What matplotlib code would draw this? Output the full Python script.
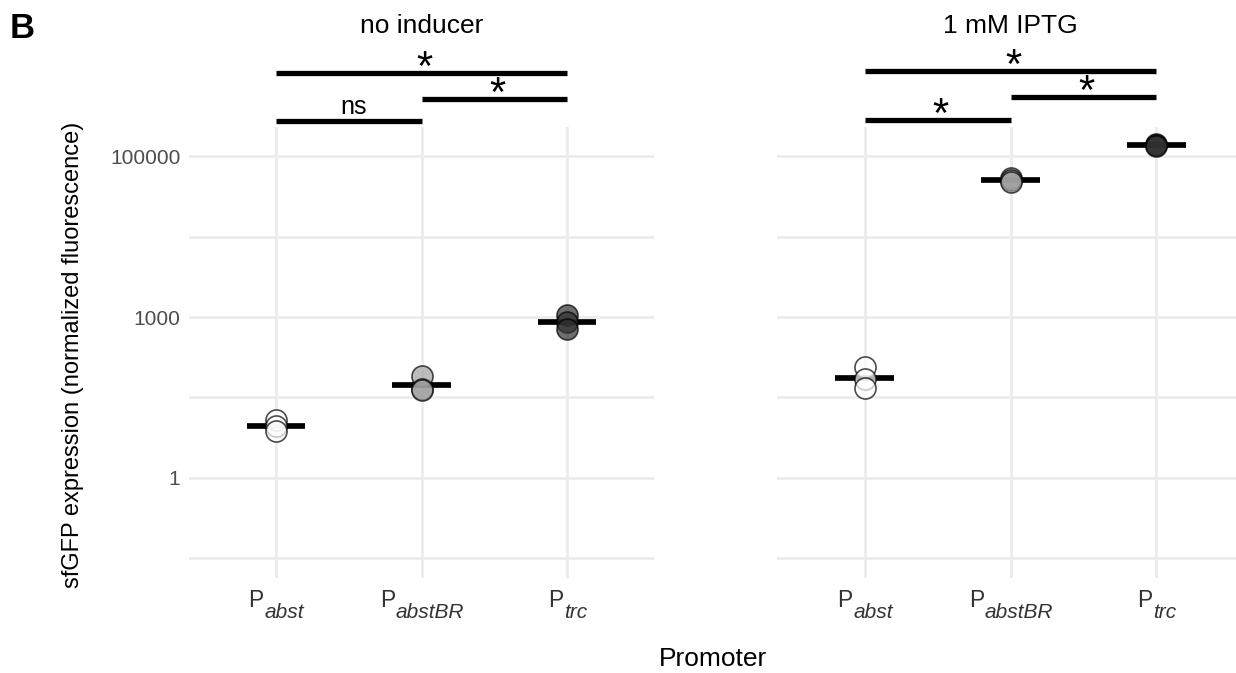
import numpy as np
import matplotlib
matplotlib.use('Agg')
import matplotlib.pyplot as plt

plt.rcParams['font.family'] = ['Liberation Sans', 'DejaVu Sans']

# valores (fluorescência normalizada, 3 réplicas)
promoters = ['abst', 'abstBR', 'trc']
panel_titles = ['no inducer', '1 mM IPTG']
fill_colors = ['#ffffff', '#a0a0a0', '#303030']

noind_abst = [12.0, 9.2, 7.4]
noind_abstbr = [79, 45, 43]
noind_trc = [1060, 810, 600]
iptg_abst = [118, 70, 47]
iptg_abstbr = [54700, 51000, 48100]
iptg_trc = [145000, 139000, 135000]

# comparações (ggsignif): pares, rótulos e alturas
pairs = [(1, 2), (2, 3), (1, 3)]
noind_sig = ['ns', '*', '*']
iptg_sig = ['*', '*', '*']
noind_sig_y = [2.79e5, 5.2e5, 1.107e6]
iptg_sig_y = [2.85e5, 5.56e5, 1.17e6]

y_breaks = [1, 1000, 100000]
y_labels = ['1', '1000', '100000']


# escala do eixo y (como no original: 1 -> 1000 -> 100000 igualmente espaçados)
def fwd(v):
    L = np.log10(np.clip(np.asarray(v, dtype=float), 1e-12, None))
    return np.where(L <= 3, L / 3, 1 + (L - 3) / 2)


def inv(p):
    p = np.asarray(p, dtype=float)
    return np.where(p <= 1, 10 ** (3 * p), 10 ** (3 + 2 * (p - 1)))


fig = plt.figure(figsize=(12.36, 6.73), dpi=100)
W, H = 1236, 673
ax1 = fig.add_axes([188.7 / W, 1 - 578 / H, 465.6 / W, 451 / H])
ax2 = fig.add_axes([777 / W, 1 - 578 / H, 467 / W, 451 / H])

panels = [
    (ax1, [noind_abst, noind_abstbr, noind_trc], noind_sig, noind_sig_y, panel_titles[0]),
    (ax2, [iptg_abst, iptg_abstbr, iptg_trc], iptg_sig, iptg_sig_y, panel_titles[1]),
]

tick_texts = []
for i, (ax, series, sig, sig_y, title) in enumerate(panels):
    ax.set_yscale('function', functions=(fwd, inv))
    for k, vals in enumerate(series):
        x = k + 1
        m = inv(np.mean(fwd(vals)))
        ax.plot([x - 0.2, x + 0.2], [m, m], color='black', lw=4.1,
                solid_capstyle='butt', zorder=3)
        ax.scatter([x] * len(vals), vals, s=230, facecolor=fill_colors[k],
                   edgecolor='black', linewidth=1.2, alpha=0.7, zorder=4)

    for (a, b), lab, yy in zip(pairs, sig, sig_y):
        ax.plot([a, b], [yy, yy], color='black', lw=3.8, solid_capstyle='butt',
                clip_on=False, zorder=5)
        if lab == '*':
            ax.annotate(lab, xy=((a + b) / 2 + 0.02, yy), xytext=(0, -5),
                        textcoords='offset points', ha='center', va='baseline',
                        fontsize=30, annotation_clip=False)
        else:
            ax.annotate(lab, xy=((a + b) / 2 + 0.03, yy), xytext=(0, 5),
                        textcoords='offset points', ha='center', va='baseline',
                        fontsize=18, annotation_clip=False)

    ax.annotate(title, xy=(0.5, 1), xycoords='axes fraction', xytext=(0, 68),
                textcoords='offset points', ha='center', va='baseline', fontsize=19)

    ax.set_xlim(0.4, 3.6)
    ax.set_ylim(10 ** -1.874, 10 ** 5.367)
    ax.set_xticks([1, 2, 3])
    ax.set_xticklabels([])
    # rótulos P com subscrito em itálico
    for k, p in enumerate(promoters):
        t1 = ax.annotate('P', xy=(k + 1, 0), xycoords=('data', 'axes fraction'),
                         xytext=(0, -21), textcoords='offset points',
                         ha='left', va='baseline', fontsize=16.5, color='#333333',
                         annotation_clip=False)
        t2 = ax.annotate(p, xy=(k + 1, 0), xycoords=('data', 'axes fraction'),
                         xytext=(0, -29), textcoords='offset points',
                         ha='left', va='baseline', fontsize=15, style='italic',
                         color='#333333', annotation_clip=False)
        tick_texts.append((t1, t2))
    ax.set_yticks(y_breaks)
    ax.set_yticks(list(inv([-0.5, 0.5, 1.5])), minor=True)
    if i == 0:
        ax.set_yticklabels(y_labels)
    else:
        ax.set_yticklabels([])
    ax.set_yticklabels([], minor=True)
    ax.tick_params(which='both', length=0)
    ax.tick_params(axis='y', labelsize=15, labelcolor='#4d4d4d', pad=6)
    ax.grid(True, which='major', color='#ebebeb', lw=1.9)
    ax.grid(True, which='minor', axis='y', color='#ebebeb', lw=1.9)
    ax.set_axisbelow(True)
    for s in ax.spines.values():
        s.set_visible(False)

fig.text(73 / W, 1 - 355 / H, 'sfGFP expression (normalized fluorescence)',
         rotation=90, ha='center', va='center', fontsize=17)
fig.text(713 / W, 1 - 666 / H, 'Promoter', ha='center', va='baseline', fontsize=19)
fig.text(10 / W, 1 - 38 / H, 'B', ha='left', va='baseline', fontsize=25, fontweight='bold')

# centraliza o conjunto P + subscrito sobre cada categoria
fig.canvas.draw()
r = fig.canvas.get_renderer()
for t1, t2 in tick_texts:
    w1 = t1.get_window_extent(r).width * 72 / fig.dpi
    w2 = t2.get_window_extent(r).width * 72 / fig.dpi
    start = -(w1 + w2) / 2
    t1.set_position((start, -21))
    t2.set_position((start + w1 + 0.5, -29))

fig.savefig('out.png', dpi=100)
